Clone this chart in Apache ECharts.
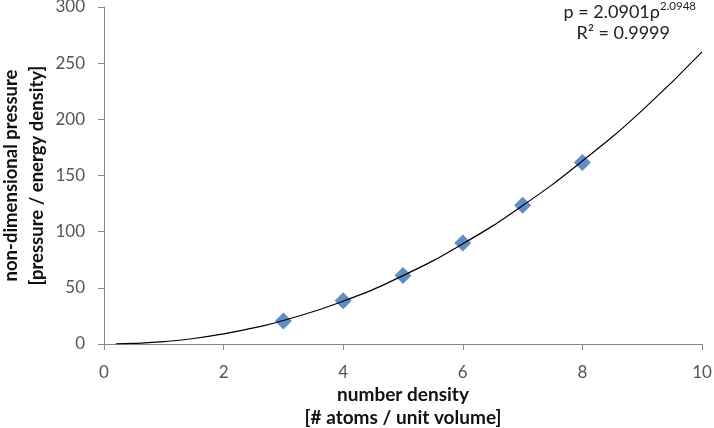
<!DOCTYPE html>
<html><head><meta charset="utf-8">
<script src="https://cdn.jsdelivr.net/npm/echarts@6/dist/echarts.min.js"></script>
<style>html,body{margin:0;padding:0;background:#fff}#c{width:714px;height:428px}</style>
</head><body><div id="c"></div>
<script>
const densityX = [3, 4, 5, 6, 7, 8];
const pressureY = [20.5, 38.5, 61, 90, 123.5, 161.5];
const trendX = [0.2, 0.5, 1, 1.5, 2, 2.5, 3, 4, 5, 6, 7, 8, 9, 10];
const trendY = [0.07, 0.49, 2.1, 4.9, 9.0, 14.3, 20.9, 38.1, 60.9, 89.2, 123.2, 162.9, 208, 260];
const xTicks = [0, 2, 4, 6, 8, 10];
const yTicks = [0, 50, 100, 150, 200, 250, 300];
const eqLine1 = 'p = 2.0901ρ';
const eqExp = '2.0948';
const eqLine2 = 'R² = 0.9999';

const font = 'Lato, "Open Sans", sans-serif';
const chart = echarts.init(document.getElementById('c'), null, {renderer: 'canvas'});
chart.setOption({
  animation: false,
  backgroundColor: '#fff',
  grid: {left: 104, right: 12, top: 7, bottom: 84, containLabel: false, outerBoundsMode: 'none'},
  xAxis: {
    type: 'value', min: xTicks[0], max: xTicks[xTicks.length-1], interval: 2,
    name: 'number density\n[# atoms / unit volume]', nameLocation: 'middle', nameGap: 39,
    nameMoveOverlap: false,
    nameTextStyle: {fontFamily: font, fontWeight: 'bold', fontSize: 19, color: '#111', lineHeight: 23},
    axisLine: {lineStyle: {color: '#888', width: 1}},
    axisTick: {show: true, inside: false, length: 6, lineStyle: {color: '#888'}},
    axisLabel: {fontFamily: font, fontSize: 17, color: '#555', margin: 20},
    splitLine: {show: false}
  },
  yAxis: {
    type: 'value', min: yTicks[0], max: yTicks[yTicks.length-1], interval: 50,
    name: 'non-dimensional pressure\n[pressure / energy density]', nameLocation: 'middle', nameGap: 54,
    nameMoveOverlap: false,
    nameTextStyle: {fontFamily: font, fontWeight: 'bold', fontSize: 18.5, color: '#111', lineHeight: 26},
    axisLine: {show: true, lineStyle: {color: '#888', width: 1}},
    axisTick: {show: true, inside: false, length: 6, lineStyle: {color: '#888'}},
    axisLabel: {fontFamily: font, fontSize: 17, color: '#555', margin: 19},
    splitLine: {show: false}
  },
  series: [
    {
      type: 'line', data: trendX.map((x, i) => [x, trendY[i]]), smooth: true,
      showSymbol: false, lineStyle: {color: '#000', width: 1.2}, z: 3
    },
    {
      type: 'scatter', data: densityX.map((x, i) => [x, pressureY[i]]),
      symbol: 'diamond', symbolSize: [17, 17],
      itemStyle: {color: '#4F81BD', opacity: 0.9}, z: 2
    }
  ],
  graphic: [
    {type: 'text', right: 18, top: 0, style: {
      text: '{b|' + eqLine1 + '}{s|' + eqExp + '}', fontFamily: font,
      rich: {b: {fontSize: 18, fontFamily: font, fill: '#222', verticalAlign: 'bottom'},
             s: {fontSize: 11.5, fontFamily: font, fill: '#222', verticalAlign: 'top', padding: [0,0,9,0]}}
    }},
    {type: 'text', right: 44, top: 24, style: {
      text: eqLine2, fontFamily: font, fontSize: 18, fill: '#222'
    }}
  ]
});
</script></body></html>
